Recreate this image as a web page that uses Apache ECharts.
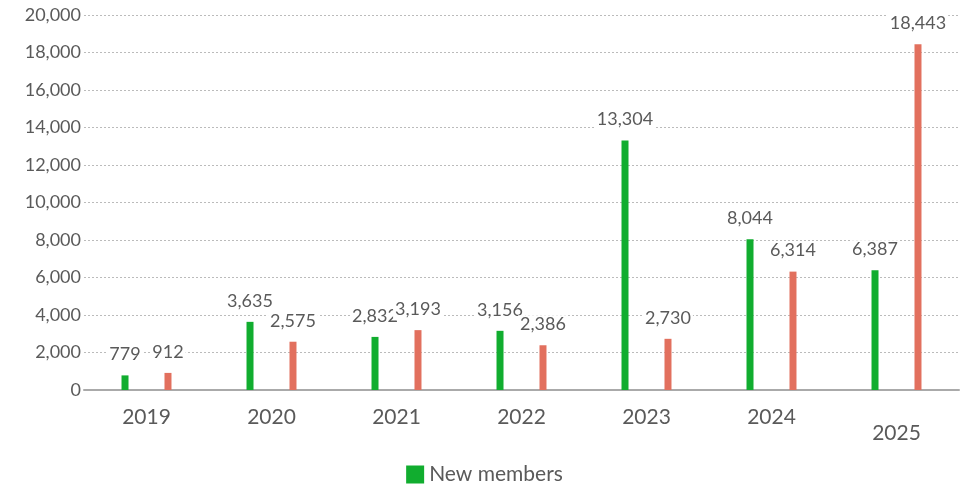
<!DOCTYPE html>
<html><head><meta charset="utf-8">
<script src="https://cdn.jsdelivr.net/npm/echarts@6/dist/echarts.min.js"></script>
<style>html,body{margin:0;padding:0;background:#fff}#c{width:969px;height:491px}</style>
</head><body><div id="c"></div>
<script>
const years = ['2019','2020','2021','2022','2023','2024','2025'];
const newMembers = [779, 3635, 2832, 3156, 13304, 8044, 6387];
const otherMembers = [912, 2575, 3193, 2386, 2730, 6314, 18443];
const yTicks = {min: 0, max: 20000, interval: 2000};
const FONT = 'Lato';
const TXT = '#5a5a5a';
const chart = echarts.init(document.getElementById('c'));
const fmt = v => v.toLocaleString('en-US');
const lbl = {
  show: true, position: 'top', distance: 12, color: TXT, fontSize: 18, fontFamily: FONT,
  backgroundColor: '#fff', padding: [0, 2],
  formatter: p => fmt(p.value)
};
chart.setOption({
  animation: false,
  grid: {left: 84, right: 10, top: 15, bottom: 101},
  legend: {
    data: ['New members'], top: 464, left: 'center', itemWidth: 18, itemHeight: 18, icon: 'rect', itemGap: 10,
    padding: 0,
    textStyle: {color: TXT, fontSize: 21, fontFamily: FONT}
  },
  xAxis: {
    type: 'category',
    data: years.map((y, i) => i === years.length - 1 ? {value: y, textStyle: {padding: [16, 0, 0, 0]}} : y),
    axisLine: {lineStyle: {color: '#aaaaaa', width: 2}},
    axisTick: {show: false},
    axisLabel: {color: TXT, fontSize: 21, fontFamily: FONT, margin: 17}
  },
  yAxis: {
    type: 'value', min: yTicks.min, max: yTicks.max, interval: yTicks.interval,
    axisLabel: {color: TXT, fontSize: 18, fontFamily: FONT, margin: 3, formatter: v => fmt(v)},
    splitLine: {lineStyle: {color: '#bbbbbb', type: [2, 2], width: 1}},
    axisLine: {show: false}, axisTick: {show: false}
  },
  series: [
    {name: 'New members', type: 'bar', data: newMembers, barWidth: 7, barGap: '514%',
     itemStyle: {color: '#11ad2f'}, label: lbl},
    {name: 'Series 2', type: 'bar', data: otherMembers, barWidth: 7,
     itemStyle: {color: '#e2705e'}, label: lbl}
  ]
});
</script></body></html>
